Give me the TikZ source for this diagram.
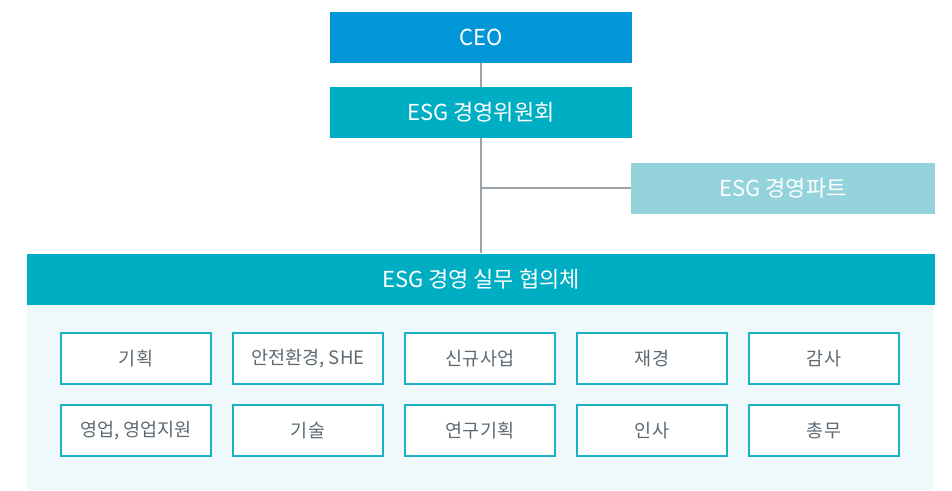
\documentclass[tikz,border=0pt]{standalone}
\usepackage{fontspec}
\setmainfont{Noto Sans CJK KR}
\definecolor{ceoblue}{HTML}{0096D7}
\definecolor{esgteal}{HTML}{00AEC3}
\definecolor{partteal}{HTML}{94D3DC}
\definecolor{panelbg}{HTML}{EFF8FA}
\definecolor{linegray}{HTML}{9AA3A9}
\definecolor{boxline}{HTML}{1AB1C7}
\definecolor{textgray}{HTML}{5E6A72}
\begin{document}
\begin{tikzpicture}[x=1pt,y=-1pt,
  headbox/.style={minimum width=302pt,minimum height=51pt,inner sep=0pt,
    text=white,font=\fontsize{22}{26}\selectfont},
  unitbox/.style={draw=boxline,line width=1.5pt,fill=white,minimum width=150pt,
    minimum height=51pt,inner sep=0pt,text=textgray,font=\fontsize{18.5}{22}\selectfont},
  link/.style={draw=linegray,line width=1.3pt}]
  \useasboundingbox (0,0) rectangle (952,490);
  % panel under the council bar
  \fill[panelbg] (27,305) rectangle (933,490);
  \node[headbox,fill=ceoblue] (ceo) at (481,37.5) {CEO};
  \node[headbox,fill=esgteal] (cmte) at (481,112.5) {ESG 경영위원회};
  \node[headbox,fill=partteal,minimum width=304pt] (part) at (783,188) {ESG 경영파트};
  \node[headbox,fill=esgteal,minimum width=908pt] (council) at (481,279) {ESG 경영 실무 협의체};
  \draw[link] (ceo) -- (cmte);
  \draw[link] (cmte) -- (council);
  \draw[link] (part.west) -- (part.west -| cmte);
  % member units
  \foreach \name/\txt [count=\i] in {plan/기획,safe/{안전환경, SHE},biz/신규사업,fin/재경,audit/감사}
    \node[unitbox] (\name) at (136+172*\i-172,358.5) {\txt};
  \foreach \name/\txt [count=\i] in {sales/{영업, 영업지원},tech/기술,rnd/연구기획,hr/인사,ga/총무}
    \node[unitbox] (\name) at (136+172*\i-172,430.5) {\txt};
\end{tikzpicture}
\end{document}
